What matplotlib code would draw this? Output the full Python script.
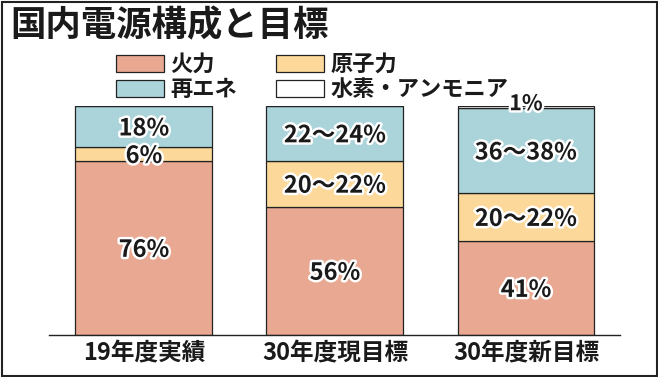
import matplotlib
matplotlib.use("Agg")
import matplotlib.pyplot as plt
import matplotlib.patheffects as pe
from matplotlib.patches import Rectangle

plt.rcParams['font.family'] = ['Noto Sans CJK JP', 'DejaVu Sans']
plt.rcParams['font.weight'] = 'bold'

categories = ["19年度実績", "30年度現目標", "30年度新目標"]
series_names = ["火力", "原子力", "再エネ", "水素・アンモニア"]
fire = [76, 56, 41]
nuclear = [6, 20, 21]
renew = [18, 24, 37]
hydrogen = [0, 0, 1]
fire_labels = ["76%", "56%", "41%"]
nuclear_labels = ["6%", "20～22%", "20～22%"]
renew_labels = ["18%", "22～24%", "36～38%"]
hydrogen_labels = ["", "", "1%"]

colors = ["#E8A892", "#FCD99B", "#AAD4DA", "#FFFFFF"]

W, H = 658, 377
fig = plt.figure(figsize=(W / 100, H / 100), dpi=100)

ax_left, ax_right, ax_bot, ax_top = 49, 620, 335, 106
ax = fig.add_axes([ax_left / W, (H - ax_bot) / H, (ax_right - ax_left) / W, (ax_bot - ax_top) / H])

x = list(range(len(categories)))
width = 0.717
series = [fire, nuclear, renew, hydrogen]
labels = [fire_labels, nuclear_labels, renew_labels, hydrogen_labels]
bottoms = [0, 0, 0]
handles = []
stroke = [pe.withStroke(linewidth=3.5, foreground="white")]
for vals, labs, col, name in zip(series, labels, colors, series_names):
    bars = ax.bar(x, vals, width=width, bottom=bottoms, color=col,
                  edgecolor="#222222", linewidth=0.9, label=name, zorder=2)
    handles.append(bars)
    for xi, v, b, lab in zip(x, vals, bottoms, labs):
        if not lab:
            continue
        yc = b + v / 2 - 0.8
        fs = 17
        if v < 3:
            yc = b + v / 2 + 1.5
            fs = 15.5
        ax.text(xi, yc, lab, ha="center", va="center", fontsize=fs,
                fontweight="bold", color="#1a1a1a", path_effects=stroke, zorder=5)
    bottoms = [bb + vv for bb, vv in zip(bottoms, vals)]

ax.set_xlim(-0.497, 2.492)
ax.set_ylim(0, 100)
ax.set_yticks([])
ax.set_xticks(x)
ax.set_xticklabels(categories, fontsize=17, fontweight="bold", color="#1a1a1a")
ax.tick_params(axis="x", length=0, pad=5)
for s in ["top", "right", "left"]:
    ax.spines[s].set_visible(False)
ax.spines["bottom"].set_linewidth(1.0)
ax.spines["bottom"].set_color("#222222")
ax.patch.set_alpha(0)

fig.text(10 / W, 1 - 8 / H, "国内電源構成と目標", fontsize=25.5, fontweight="bold",
         ha="left", va="top", color="#1a1a1a")

order = [0, 2, 1, 3]
leg = fig.legend([handles[i] for i in order], [series_names[i] for i in order],
                 ncol=2, loc="upper left", bbox_to_anchor=(116 / W, 1 - 53 / H),
                 frameon=False, fontsize=16, handlelength=2.15, handleheight=0.8,
                 handletextpad=0.3, columnspacing=1.75, labelspacing=0.1,
                 borderpad=0.0, borderaxespad=0.0)
for t in leg.get_texts():
    t.set_fontweight("bold")
    t.set_color("#1a1a1a")

fig.patches.append(Rectangle((1.5 / W, 1.5 / H), 1 - 3 / W, 1 - 3 / H, transform=fig.transFigure,
                             fill=False, edgecolor="#222222", linewidth=1.5))

fig.savefig("out.png", dpi=100)
